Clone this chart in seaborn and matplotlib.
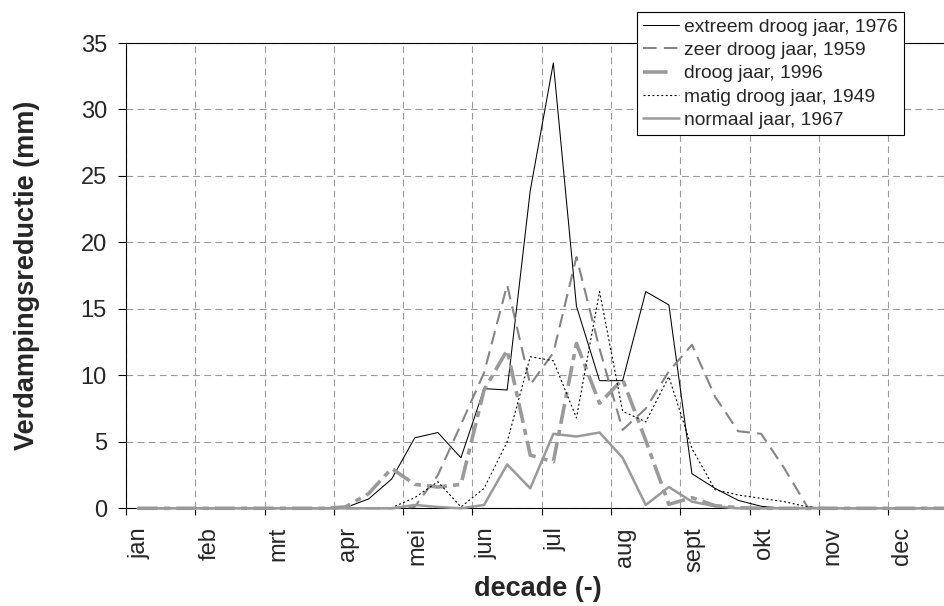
import numpy as np
import pandas as pd
import matplotlib
matplotlib.use("Agg")
import matplotlib.pyplot as plt
import seaborn as sns

# Decades of the year (36 per year, 3 per month)
decades = list(range(1, 37))
months = ["jan", "feb", "mrt", "apr", "mei", "jun",
          "jul", "aug", "sept", "okt", "nov", "dec"]

# Evaporation reduction per decade (mm)
extreem_1976 = [0, 0, 0, 0, 0, 0, 0, 0, 0, 0.05, 0.7, 2.2, 5.3, 5.7, 3.8, 9.0, 8.9, 23.9,
                33.5, 15.2, 9.6, 9.6, 16.3, 15.3, 2.6, 1.5, 0.6, 0.15, 0, 0, 0, 0, 0, 0, 0, 0]
zeer_1959 = [0, 0, 0, 0, 0, 0, 0, 0, 0, 0, 0, 0, 0.1, 2.5, 6.3, 10.2, 16.8, 9.3,
             11.7, 18.9, 12.0, 5.9, 7.5, 10.3, 12.3, 8.4, 5.8, 5.6, 3.0, 0.1, 0, 0, 0, 0, 0, 0]
droog_1996 = [0, 0, 0, 0, 0, 0, 0, 0, 0, 0.1, 1.1, 3.0, 1.8, 1.6, 1.8, 8.9, 11.9, 4.0,
              3.5, 12.4, 7.9, 9.7, 5.1, 0.3, 0.8, 0.2, 0.05, 0, 0, 0, 0, 0, 0, 0, 0, 0]
matig_1949 = [0, 0, 0, 0, 0, 0, 0, 0, 0, 0, 0, 0.05, 0.8, 2.0, 0.1, 1.5, 5.0, 11.4,
              11.1, 6.8, 16.3, 7.3, 6.5, 9.9, 4.5, 1.4, 1.0, 0.75, 0.5, 0.1, 0, 0, 0, 0, 0, 0]
normaal_1967 = [0, 0, 0, 0, 0, 0, 0, 0, 0, 0, 0, 0, 0.25, 0.1, 0, 0.25, 3.3, 1.5,
                5.6, 5.4, 5.7, 3.8, 0.25, 1.6, 0.5, 0.15, 0, 0, 0, 0, 0, 0, 0, 0, 0, 0]

series = [
    ("extreem droog jaar, 1976", extreem_1976, dict(color="black", lw=0.75, ls="-")),
    ("zeer droog jaar, 1959", zeer_1959, dict(color="#858585", lw=1.5, ls=(0, (6.5, 3.5)))),
    ("droog jaar, 1996", droog_1996, dict(color="#9a9a9a", lw=2.6, ls=(0, (5.6, 1.7, 1.7, 1.7)))),
    ("matig droog jaar, 1949", matig_1949, dict(color="black", lw=0.8, ls=(0, (1.8, 2.2)))),
    ("normaal jaar, 1967", normaal_1967, dict(color="#9a9a9a", lw=1.8, ls="-")),
]

sns.set_theme(style="white")
plt.rcParams["font.family"] = ["Liberation Sans", "DejaVu Sans"]

fig = plt.figure(figsize=(9.45, 6.06), dpi=100)
ax = fig.add_axes([126 / 945, 97.7 / 606, 831.6 / 945, 465.3 / 606])

for name, vals, st in series:
    df = pd.DataFrame({"decade": decades, "mm": vals})
    df["pos"] = df["decade"] - 0.5
    sns.lineplot(data=df, x="pos", y="mm", ax=ax, color=st["color"],
                 linewidth=st["lw"], linestyle=st["ls"], label=name,
                 clip_on=False, zorder=3)

ax.set_xlim(0, 36)
ax.set_ylim(0, 35)

# month boundaries carry the tick marks, labels sit just after them
ax.set_xticks(np.arange(0, 37, 3))
ax.set_xticklabels([])
ax.set_xticks(np.arange(12) * 3 + 0.6, minor=True)
ax.set_xticklabels(months, minor=True, rotation=90, fontsize=17)
ax.tick_params(axis="x", which="minor", length=0, pad=13.5)
ax.tick_params(axis="x", which="major", length=5, width=0.8, color="black",
               direction="out", bottom=True)
for lbl in ax.get_xticklabels(minor=True):
    lbl.set_verticalalignment("top")
    lbl.set_horizontalalignment("center")

ax.set_yticks(np.arange(0, 36, 5))
ax.tick_params(axis="y", length=5.8, width=0.8, color="black", direction="out",
               left=True, pad=8, labelsize=17)

ax.grid(True, which="major", color="#9a9a9a", linestyle=(0, (6, 4)), linewidth=0.8)
ax.set_axisbelow(True)

for side in ["left", "bottom", "top", "right"]:
    ax.spines[side].set_visible(True)
    ax.spines[side].set_color("black")
    ax.spines[side].set_linewidth(0.8)

ax.set_xlabel("decade (-)", fontsize=19.5, fontweight="bold")
ax.xaxis.set_label_coords(0.4955, -0.145)
ax.set_ylabel("Verdampingsreductie (mm)", fontsize=19.5, fontweight="bold")
ax.yaxis.set_label_coords(-0.104, 0.5)

leg = ax.legend(loc="upper left", bbox_to_anchor=(637 / 945, 1 - 12 / 606),
                bbox_transform=fig.transFigure, borderaxespad=0, frameon=True,
                fancybox=False, shadow=False, fontsize=13.9, handlelength=1.85,
                handletextpad=0.25, labelspacing=0.3, borderpad=0.33)
leg.get_frame().set_edgecolor("black")
leg.get_frame().set_linewidth(0.8)
leg.get_frame().set_facecolor("white")
leg.get_frame().set_alpha(1)
leg.set_zorder(10)
# the thick dash-dot key shows a single long dash
leg.get_lines()[2].set_linestyle((0, (6.8, 6)))

fig.savefig("out.png", dpi=100)
